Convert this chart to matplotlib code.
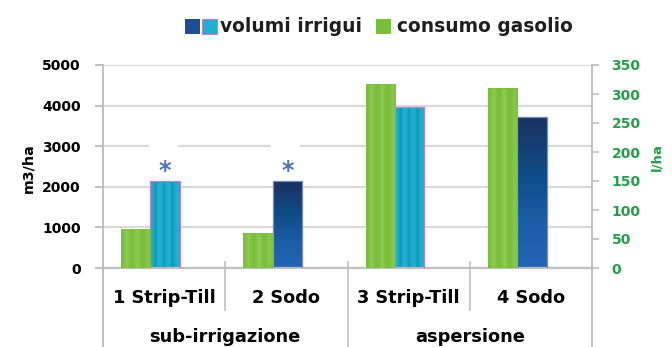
import numpy as np
import matplotlib
matplotlib.use("Agg")
import matplotlib.pyplot as plt
import matplotlib.transforms as mtransforms
from matplotlib.colors import to_rgb
from matplotlib.patches import Rectangle
from matplotlib.lines import Line2D

# ---- data -------------------------------------------------------------
categories = ["1 Strip-Till", "2 Sodo", "3 Strip-Till", "4 Sodo"]
groups = ["sub-irrigazione", "aspersione"]
volumi_irrigui = [2140, 2140, 3960, 3720]     # m3/ha (left axis)
consumo_gasolio = [68, 60, 318, 311]          # l/ha (right axis)
strip_till = [True, False, True, False]       # cyan fill for Strip-Till, dark blue for Sodo
significant = [True, True, False, False]      # asterisk above the irrigation bar
left_ticks = [0, 1000, 2000, 3000, 4000, 5000]
right_ticks = [0, 50, 100, 150, 200, 250, 300, 350]

# ---- style ------------------------------------------------------------
FONT = "DejaVu Sans"
GREEN_TXT = "#23A046"
GRID = "#D9D9D9"
AXIS = "#BFBFBF"
plt.rcParams["font.family"] = FONT

W, H = 672, 347
fig = plt.figure(figsize=(W / 100, H / 100), dpi=100)
ax = fig.add_axes([103 / W, 1 - 268 / H, (592 - 103) / W, (268 - 65) / H])
ax2 = ax.twinx()

x = np.arange(len(categories))
bw = 0.24
off_g, off_b = -0.232, 0.008


def stripes(base, light, pattern):
    base, light = np.array(to_rgb(base)), np.array(to_rgb(light))
    row = np.array([base + (light - base) * p for p in pattern])
    return row[None, :, :]


def vgrad(stops, n=120):
    pos = np.linspace(0, 1, n)
    cols = np.array([to_rgb(c) for _, c in stops])
    ps = np.array([p for p, _ in stops])
    img = np.stack([np.interp(pos, ps, cols[:, k]) for k in range(3)], axis=1)
    return img[:, None, :]


def fill(axis, patch, img):
    x0, y0 = patch.get_x(), patch.get_y()
    im = axis.imshow(img, extent=(x0, x0 + patch.get_width(), y0, y0 + patch.get_height()),
                     aspect="auto", origin="upper", interpolation="bilinear", zorder=2.5)
    im.set_clip_path(patch)


green_img = stripes("#79BE3B", "#90CD4F", [0, 0.3, 0.9, 0.5, 0.1, 0, 0.4, 1.0, 0.5, 0.1, 0, 0.3, 0.8, 0.2])
cyan_img = stripes("#1BB2D3", "#1594B5", [0, 0.2, 1.0, 0.3, 0, 0.1, 0.9, 0.3, 0, 0.2, 1.0, 0.3, 0, 0.1])
navy_img = vgrad([(0, "#1B3260"), (0.4, "#0E4D88"), (0.7, "#1C5DA8"), (1, "#2366B4")])

# consumo gasolio on the right axis
gbars = ax2.bar(x + off_g, consumo_gasolio, bw, facecolor="none", edgecolor="#7DBF45", lw=0.6, zorder=3)
for p in gbars:
    fill(ax2, p, green_img)

# volumi irrigui on the left axis
bbars = ax.bar(x + off_b, volumi_irrigui, bw, facecolor="none", zorder=3,
               edgecolor=["#C77BCB" if s else "#6D8FBF" for s in strip_till], lw=0.9)
for p, s in zip(bbars, strip_till):
    fill(ax, p, cyan_img if s else navy_img)

# significance marks, each on a small white label box
for xi, v, sig in zip(x, volumi_irrigui, significant):
    if sig:
        ax.add_patch(Rectangle((xi + off_b - 0.13, v + 110), 0.235, 950,
                               facecolor="white", edgecolor="none", zorder=1.5))
        ax.text(xi + off_b, v + 250, "*", ha="center", va="center", fontsize=17,
                fontweight="bold", color="#4A72C0", zorder=4)

# ---- axes -------------------------------------------------------------
ax.set_xlim(-0.5, len(categories) - 0.5)
ax.set_ylim(0, 5000)
ax2.set_ylim(0, 350)
ax.set_yticks(left_ticks)
ax2.set_yticks(right_ticks)
ax.set_xticks([])
ax.grid(axis="y", color=GRID, lw=1.6, zorder=0)
ax.set_axisbelow(True)
for a in (ax, ax2):
    for s in a.spines.values():
        s.set_visible(False)
ax.spines["bottom"].set_visible(True)
ax.spines["bottom"].set_color(AXIS)
ax.spines["bottom"].set_linewidth(1.6)

ax.tick_params(axis="y", length=6, width=1.4, color=AXIS, pad=10, labelsize=10)
ax2.tick_params(axis="y", length=5, width=1.2, color=AXIS, pad=9, labelsize=10, labelcolor=GREEN_TXT)
for lab in ax.get_yticklabels() + ax2.get_yticklabels():
    lab.set_fontweight("bold")

ax.set_ylabel("m3/ha", fontsize=10.3, fontweight="bold", va="center")
ax.yaxis.set_label_coords(-0.153, 0.49)
ax2.set_ylabel("l/ha", fontsize=9.5, fontweight="bold", color=GREEN_TXT, va="center", rotation=90)
ax2.yaxis.set_label_coords(1.133, 0.547)

# ---- two-level category axis -----------------------------------------
tr = mtransforms.blended_transform_factory(ax.transData, fig.transFigure)
y_top = 1 - 262 / H
y_short = 1 - 310 / H
y_axis_top = 1 - 65 / H
for xb in [-0.5, len(categories) - 0.5]:
    fig.add_artist(Line2D([xb, xb], [0, y_axis_top], transform=tr, color=AXIS, lw=1.4))
for xb in [0.5, 2.5]:
    fig.add_artist(Line2D([xb, xb], [y_short, y_top], transform=tr, color=AXIS, lw=1.2))
fig.add_artist(Line2D([1.5, 1.5], [0, y_top], transform=tr, color=AXIS, lw=1.2))

for xi, c in zip(x, categories):
    ax.text(xi, 1 - 298 / H, c, transform=tr, ha="center", va="center",
            fontsize=12.8, fontweight="bold", clip_on=False)
for gi, g in enumerate(groups):
    ax.text(2 * gi + 0.5, 1 - 337 / H, g, transform=tr, ha="center", va="center",
            fontsize=12.8, fontweight="bold", clip_on=False)

# ---- legend -----------------------------------------------------------
ly = 1 - 26.5 / H
sq_h = 15 / H
fig.add_artist(Rectangle((185 / W, ly - sq_h / 2), 15 / W, sq_h, transform=fig.transFigure,
                         facecolor="#1F4C92", edgecolor="none"))
fig.add_artist(Rectangle((202 / W, ly - sq_h / 2), 15 / W, sq_h, transform=fig.transFigure,
                         facecolor="#1BB0CF", edgecolor="#C77BCB", lw=0.8))
fig.text(220 / W, ly, "volumi irrigui", ha="left", va="center", fontsize=13.4, fontweight="bold",
         color="#1E1E1E")
fig.add_artist(Rectangle((376 / W, ly - sq_h / 2), 15 / W, sq_h, transform=fig.transFigure,
                         facecolor="#79BE3B", edgecolor="none"))
fig.text(397 / W, ly, "consumo gasolio", ha="left", va="center", fontsize=13.4, fontweight="bold",
         color="#1E1E1E")

fig.savefig("out.png", dpi=100)
